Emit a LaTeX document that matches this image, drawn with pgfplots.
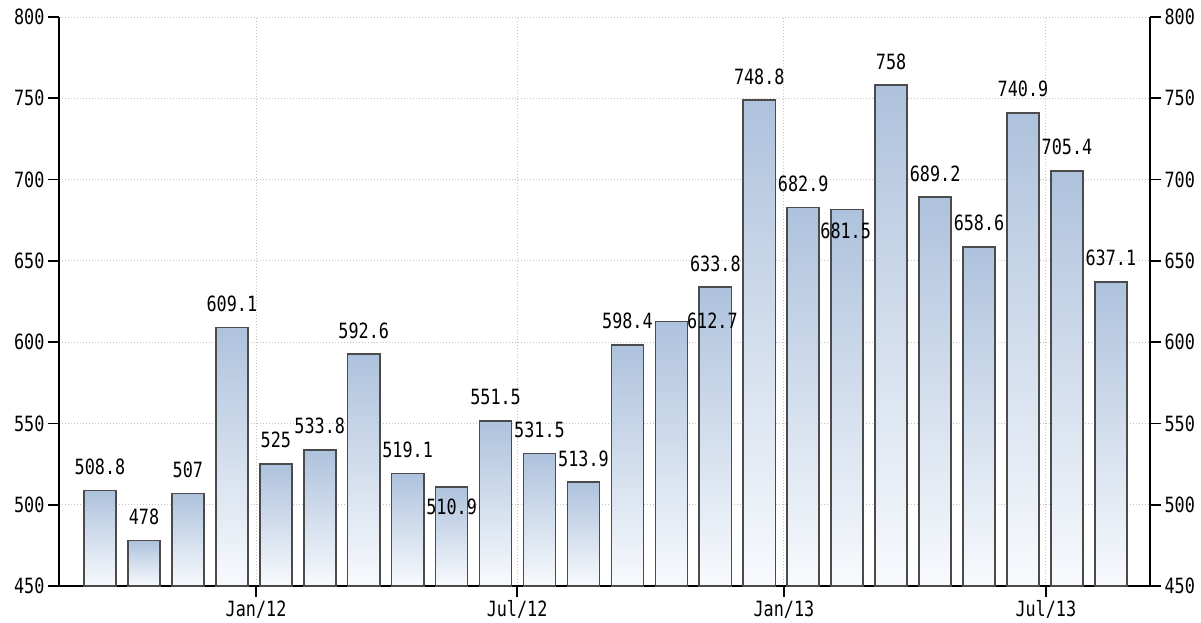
\documentclass[border=0pt]{standalone}
\usepackage{pgfplots}
\usepackage{pgfplotstable}
\pgfplotsset{compat=1.18}
\usepackage{fontspec}
\newfontfamily\labfont[FakeStretch=0.8]{DejaVu Sans Mono}
\newcommand\lf{\labfont\fontsize{21}{24}\selectfont}
\definecolor{bartop}{RGB}{174,194,221}
\definecolor{barbot}{RGB}{248,250,253}
\definecolor{bardraw}{RGB}{75,75,75}
\definecolor{gridc}{RGB}{195,195,195}

\pgfplotstableread{
x y lab
0 508.8 508.8
1 478 478
2 507 507
3 609.1 609.1
4 525 525
5 533.8 533.8
6 592.6 592.6
7 519.1 519.1
8 510.9 510.9
9 551.5 551.5
10 531.5 531.5
11 513.9 513.9
12 598.4 598.4
13 612.7 612.7
14 633.8 633.8
15 748.8 748.8
16 682.9 682.9
17 681.5 681.5
18 758 758
19 689.2 689.2
20 658.6 658.6
21 740.9 740.9
22 705.4 705.4
23 637.1 637.1
}\data

\tikzset{
  labshift8/.style={yshift=-44pt},
  labshift13/.style={xshift=41pt, yshift=-23pt},
  labshift17/.style={xshift=-1.5pt, yshift=-45pt},
}

\begin{document}
\begin{tikzpicture}
\useasboundingbox (-59pt,-36pt) rectangle (1142pt,586pt);
\begin{axis}[
  at={(0pt,0pt)}, anchor=south west,
  scale only axis, width=1091pt, height=569pt,
  xmin=-0.933, xmax=23.89, ymin=450, ymax=800,
  y coord trafo/.code={\pgfmathparse{#1-450}},
  y coord inv trafo/.code={\pgfmathparse{#1+450}},
  ytick={450,500,550,600,650,700,750,800},
  yticklabels={450,500,550,600,650,700,750,800},
  xtick={3.55,9.49,15.56,21.52},
  xticklabels={Jan/12,Jul/12,Jan/13,Jul/13},
  axis x line*=bottom, axis y line*=left,
  every outer x axis line/.append style={-},
  every outer y axis line/.append style={-},
  every inner x axis line/.append style={-},
  every inner y axis line/.append style={-},
  axis line style={line width=1.7pt, black},
  tick align=outside, major tick length=11pt,
  tick style={line width=1.7pt, black},
  grid=major,
  major grid style={draw=gridc, line width=1pt, dash pattern=on 1pt off 2pt},
  ticklabel style={font=\lf, text=black},
]
\pgfplotsinvokeforeach{0,...,23}{
\addplot[ybar, bar width=0.73, draw=bardraw, line width=1.6pt,
  top color=bartop, bottom color=barbot,
  restrict x to domain=#1:#1,
  point meta=explicit symbolic,
  nodes near coords,
  every node near coord/.append style={anchor=south, inner sep=0pt,
     yshift=15pt, text=black, font=\lf, labshift#1/.try},
] table[x=x, y=y, meta=lab] {\data};
}
\end{axis}
\begin{axis}[
  at={(0pt,0pt)}, anchor=south west,
  scale only axis, width=1091pt, height=569pt,
  xmin=-0.933, xmax=23.89, ymin=450, ymax=800,
  ytick={450,500,550,600,650,700,750,800},
  yticklabels={450,500,550,600,650,700,750,800},
  axis y line*=right, axis x line=none,
  every outer y axis line/.append style={-},
  every inner y axis line/.append style={-},
  axis line style={line width=1.7pt, black},
  tick align=outside, major tick length=11pt,
  tick style={line width=1.7pt, black},
  ticklabel style={font=\lf, text=black},
]
\end{axis}
\end{tikzpicture}
\end{document}
